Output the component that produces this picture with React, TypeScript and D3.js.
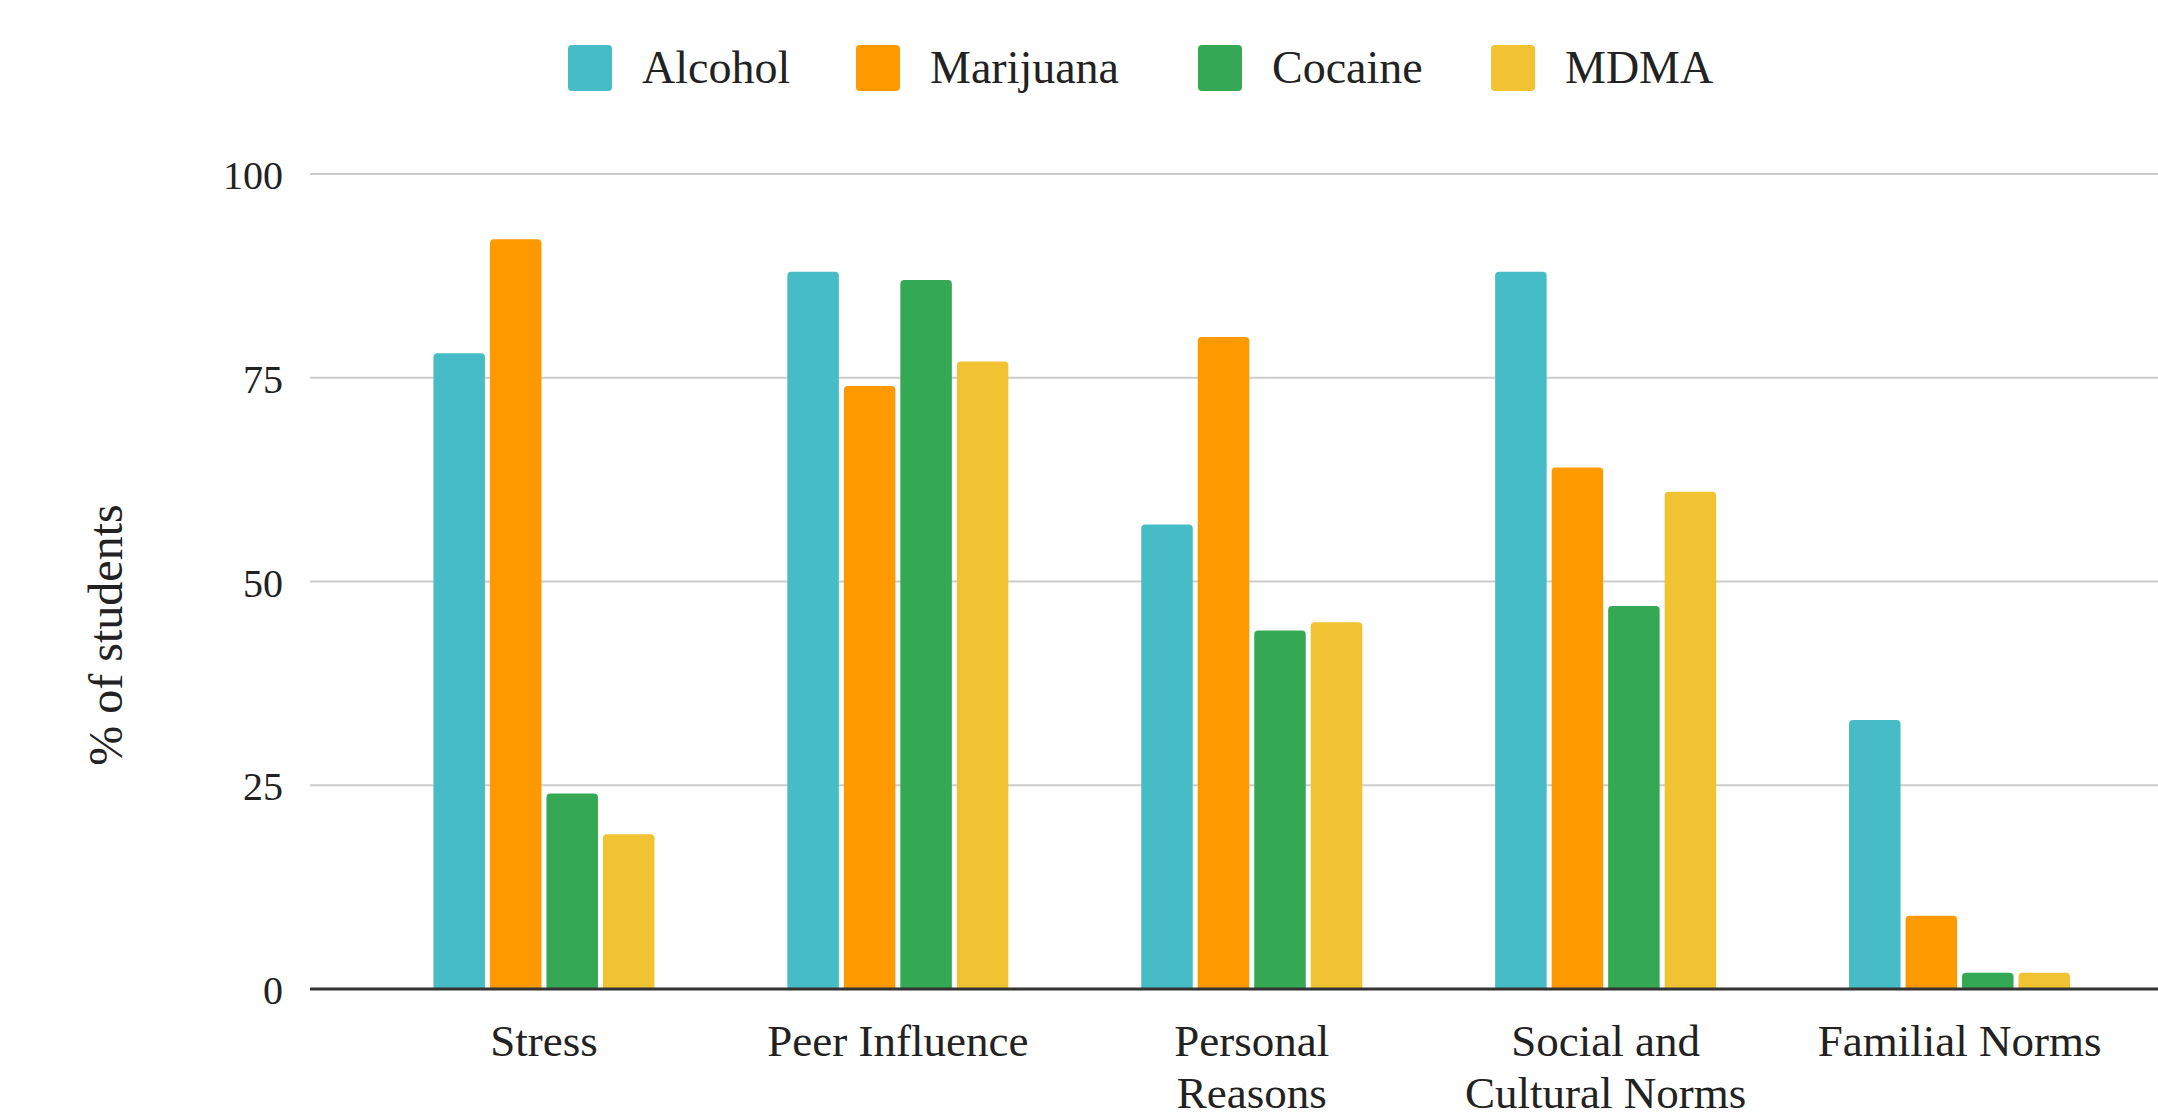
import React from "react";
import * as d3 from "d3";

const categories = ["Stress", "Peer Influence", "Personal Reasons", "Social and Cultural Norms", "Familial Norms"];
const categoryLines = [["Stress"], ["Peer Influence"], ["Personal", "Reasons"], ["Social and", "Cultural Norms"], ["Familial Norms"]];
const seriesNames = ["Alcohol", "Marijuana", "Cocaine", "MDMA"];
const seriesColors = ["#46BDC6", "#FF9900", "#34A853", "#F1C232"];
const alcohol = [78, 88, 57, 88, 33];
const marijuana = [92, 74, 80, 64, 9];
const cocaine = [24, 87, 44, 47, 2];
const mdma = [19, 77, 45, 61, 2];
const seriesValues = [alcohol, marijuana, cocaine, mdma];
const yTicks = [0, 25, 50, 75, 100];
const yTitle = "% of students";

const W = 2158;
const H = 1120;
const FONT = "'Liberation Serif', 'DejaVu Serif', Georgia, serif";
const legendX = [568, 856, 1198, 1491];

function topRoundedRect(x: number, y: number, w: number, h: number, r: number) {
  const rr = Math.min(r, h / 2, w / 2);
  if (h <= 0) return "";
  return `M${x},${y + h} L${x},${y + rr} Q${x},${y} ${x + rr},${y} L${x + w - rr},${y} Q${x + w},${y} ${x + w},${y + rr} L${x + w},${y + h} Z`;
}

export default function App() {
  const x0 = d3.scaleBand<string>().domain(categories).range([367, 2136.5]).paddingInner(0.3755).paddingOuter(0.18775);
  const x1 = d3.scaleBand<string>().domain(seriesNames).range([0, x0.bandwidth()]).paddingInner(0.0885).paddingOuter(0);
  const y = d3.scaleLinear().domain([0, 100]).range([989, 174]);
  const plotLeft = 310;

  return (
    <svg width={W} height={H} style={{ position: "absolute", left: 0, top: 0, display: "block", background: "#fff" }} fontFamily={FONT}>
      {/* legend */}
      {seriesNames.map((s, i) => (
        <g key={s}>
          <rect x={legendX[i]} y={45} width={44} height={46} rx={4} fill={seriesColors[i]} />
          <text x={legendX[i] + 74} y={83} fontSize={46} fill="#222">{s}</text>
        </g>
      ))}

      {/* gridlines */}
      {yTicks.filter((t) => t !== 0).map((t) => (
        <line key={t} x1={plotLeft} x2={W} y1={y(t)} y2={y(t)} stroke="#cccccc" strokeWidth={2} />
      ))}

      {/* y tick labels */}
      {yTicks.map((t) => (
        <text key={t} x={283} y={y(t) + 15} fontSize={40} textAnchor="end" fill="#222">{t}</text>
      ))}

      {/* y title */}
      <text transform={`translate(122,635) rotate(-90)`} fontSize={48} textAnchor="middle" fill="#222">{yTitle}</text>

      {/* bars */}
      {categories.map((c, ci) => (
        <g key={c}>
          {seriesNames.map((s, si) => {
            const v = seriesValues[si][ci];
            const bx = (x0(c) as number) + (x1(s) as number);
            const by = y(v);
            return <path key={s} d={topRoundedRect(bx, by, x1.bandwidth(), y(0) - by, 4)} fill={seriesColors[si]} />;
          })}
        </g>
      ))}

      {/* baseline */}
      <line x1={plotLeft} x2={W} y1={y(0)} y2={y(0)} stroke="#333333" strokeWidth={3} />

      {/* category labels */}
      {categories.map((c, ci) => (
        <text key={c} x={(x0(c) as number) + x0.bandwidth() / 2} y={1056} fontSize={45} textAnchor="middle" fill="#222">
          {categoryLines[ci].map((line, li) => (
            <tspan key={li} x={(x0(c) as number) + x0.bandwidth() / 2} dy={li === 0 ? 0 : 52}>{line}</tspan>
          ))}
        </text>
      ))}
    </svg>
  );
}
